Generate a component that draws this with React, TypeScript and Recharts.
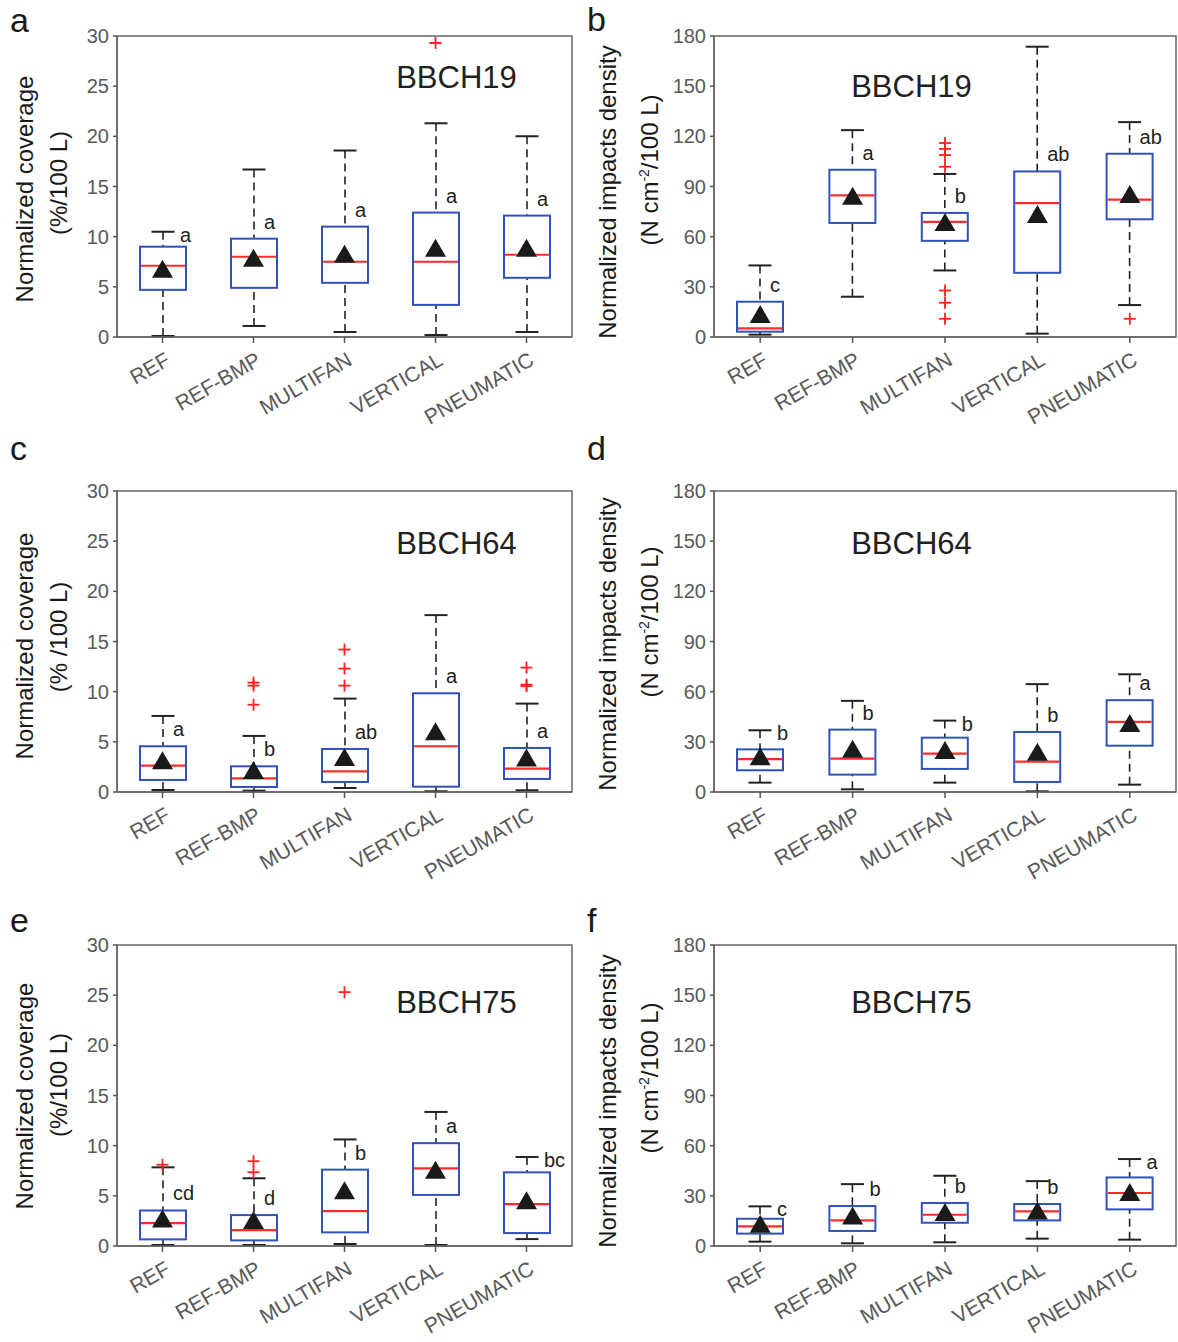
import React from 'react';
import { ComposedChart, Bar, Scatter, XAxis, YAxis, ReferenceArea } from 'recharts';

const FONT = "Arial, 'Liberation Sans', Helvetica, sans-serif";

const categories = ['REF', 'REF-BMP', 'MULTIFAN', 'VERTICAL', 'PNEUMATIC'];
const coverageTicks = [0, 5, 10, 15, 20, 25, 30];
const impactTicks = [0, 30, 60, 90, 120, 150, 180];

// Panel a: coverage BBCH19
const aMin = [0.1, 1.1, 0.5, 0.2, 0.5];
const aQ1 = [4.7, 4.9, 5.4, 3.2, 5.9];
const aMedian = [7.1, 8.0, 7.5, 7.5, 8.2];
const aQ3 = [9.0, 9.8, 11.0, 12.4, 12.1];
const aMax = [10.5, 16.7, 18.6, 21.3, 20.0];
const aMean = [6.8, 7.9, 8.3, 8.9, 8.9];
const aLetters = ['a', 'a', 'a', 'a', 'a'];
const aOutliers = [[], [], [], [29.3], []];

// Panel b: impacts BBCH19
const bMin = [1.4, 24.1, 39.8, 2.0, 19.1];
const bQ1 = [3.2, 68.2, 57.5, 38.4, 70.4];
const bMedian = [5.2, 84.7, 68.8, 80.0, 82.1];
const bQ3 = [21.1, 100.0, 74.2, 99.0, 109.6];
const bMax = [42.8, 123.7, 97.5, 173.6, 128.5];
const bMean = [13.7, 84.5, 68.8, 73.5, 85.5];
const bLetters = ['c', 'a', 'b', 'ab', 'ab'];
const bOutliers = [[], [], [116.0, 112.5, 108.8, 101.8, 27.8, 20.5, 10.9], [], [10.9]];

// Panel c: coverage BBCH64
const cMin = [0.2, 0.13, 0.4, 0.07, 0.17];
const cQ1 = [1.2, 0.5, 1.0, 0.53, 1.3];
const cMedian = [2.63, 1.36, 2.06, 4.56, 2.33];
const cQ3 = [4.56, 2.56, 4.29, 9.84, 4.39];
const cMax = [7.58, 5.59, 9.31, 17.63, 8.81];
const cMean = [3.16, 2.2, 3.5, 6.05, 3.43];
const cLetters = ['a', 'b', 'ab', 'a', 'a'];
const cOutliers = [[], [10.9, 10.6, 8.7], [14.2, 12.3, 10.6], [], [12.4, 10.7, 10.55]];

// Panel d: impacts BBCH64
const dMin = [5.6, 1.6, 5.6, 0.4, 4.4];
const dQ1 = [13.0, 10.4, 13.8, 6.0, 27.7];
const dMedian = [19.6, 20.0, 23.0, 18.2, 41.9];
const dQ3 = [25.5, 37.3, 32.5, 35.9, 54.9];
const dMax = [36.9, 54.5, 42.7, 64.5, 70.4];
const dMean = [21.4, 25.9, 25.1, 24.1, 41.3];
const dLetters = ['b', 'b', 'b', 'b', 'a'];
const dOutliers = [[], [], [], [], []];

// Panel e: coverage BBCH75
const eMin = [0.1, 0.1, 0.2, 0.1, 0.69];
const eQ1 = [0.66, 0.56, 1.36, 5.09, 1.29];
const eMedian = [2.28, 1.59, 3.47, 7.74, 4.17];
const eQ3 = [3.54, 3.08, 7.61, 10.25, 7.34];
const eMax = [7.84, 6.75, 10.62, 13.36, 8.87];
const eMean = [2.75, 2.58, 5.56, 7.6, 4.56];
const eLetters = ['cd', 'd', 'b', 'a', 'bc'];
const eOutliers = [[8.1], [8.45, 7.35], [25.3], [], []];

// Panel f: impacts BBCH75
const fMin = [2.6, 1.6, 2.2, 4.4, 3.8];
const fQ1 = [7.4, 9.0, 13.9, 15.3, 21.9];
const fMedian = [11.7, 15.3, 18.7, 20.7, 31.7];
const fQ3 = [16.3, 23.9, 25.7, 25.1, 41.0];
const fMax = [23.7, 37.0, 42.0, 38.8, 52.0];
const fMean = [13.3, 18.3, 20.3, 21.3, 32.3];
const fLetters = ['c', 'b', 'b', 'b', 'a'];
const fOutliers = [[], [], [], [], []];

const MAX_OUT = 7;

function makeRows(
  mn: number[], q1: number[], med: number[], q3: number[], mx: number[],
  mean: number[], letters: string[], outliers: number[][]
) {
  return categories.map((name, i) => {
    const row: any = {
      name,
      range: [mn[i], mx[i]],
      lo: mn[i], hi: mx[i], q1: q1[i], med: med[i], q3: q3[i],
      mean: mean[i], letter: letters[i],
    };
    for (let k = 0; k < MAX_OUT; k++) row['o' + k] = outliers[i][k] ?? null;
    return row;
  });
}

const BoxShape = (props: any) => {
  const { x, y, width, height, payload } = props;
  if (x == null || y == null || !payload) return <g />;
  const top = Math.min(y, y + height);
  const bot = Math.max(y, y + height);
  const { lo, hi, q1, q3, med, letter } = payload;
  const px = (v: number) => bot - ((v - lo) / (hi - lo)) * (bot - top);
  const cx = x + width / 2;
  const hw = width / 2;
  const cw = 11.5;
  const yHi = px(hi), yLo = px(lo), yQ1 = px(q1), yQ3 = px(q3), yMed = px(med);
  const capBase = yHi + 10;
  const boxBase = yQ3 - 10;
  const atCap = capBase >= boxBase - 2;
  const ly = Math.max(capBase, boxBase);
  const lx = cx + (atCap ? 17 : 10);
  return (
    <g>
      <line x1={cx} x2={cx} y1={yHi} y2={yQ3} stroke="#222" strokeWidth={1.6} strokeDasharray="8 5" />
      <line x1={cx} x2={cx} y1={yLo} y2={yQ1} stroke="#222" strokeWidth={1.6} strokeDasharray="8 5" />
      <line x1={cx - cw} x2={cx + cw} y1={yHi} y2={yHi} stroke="#222" strokeWidth={2} />
      <line x1={cx - cw} x2={cx + cw} y1={yLo} y2={yLo} stroke="#222" strokeWidth={2} />
      <rect x={cx - hw} y={yQ3} width={width} height={Math.max(0, yQ1 - yQ3)} fill="#fff" stroke="#2f52bd" strokeWidth={2} />
      <line x1={cx - hw + 1} x2={cx + hw - 1} y1={yMed} y2={yMed} stroke="#ff2a2a" strokeWidth={2.2} />
      <text x={lx} y={ly} fontSize={20} fontFamily={FONT} fill="#231f20">{letter}</text>
    </g>
  );
};

const Triangle = (props: any) => {
  const { cx, cy } = props;
  if (cx == null || cy == null || isNaN(cy)) return <g />;
  const w = 10.5, h = 9;
  return <polygon points={`${cx},${cy - h} ${cx - w},${cy + h} ${cx + w},${cy + h}`} fill="#1a1a1a" />;
};

const makePlus = (key: string) => (props: any) => {
  const { cx, cy, payload } = props;
  if (!payload || payload[key] == null || cx == null || cy == null || isNaN(cy)) return <g />;
  const s = 6;
  return (
    <g>
      <line x1={cx - s} x2={cx + s} y1={cy} y2={cy} stroke="#ff2020" strokeWidth={1.8} />
      <line x1={cx} x2={cx} y1={cy - s} y2={cy + s} stroke="#ff2020" strokeWidth={1.8} />
    </g>
  );
};

const XTick = (props: any) => {
  const { x, y, payload } = props;
  const ax = x + 9;
  const ay = y + 19;
  return (
    <text x={ax} y={ay} transform={`rotate(-30 ${ax} ${ay})`} textAnchor="end" fontSize={21} fontFamily={FONT} fill="#595959">
      {payload.value}
    </text>
  );
};

type PanelProps = {
  rows: any[];
  ticks: number[];
  max: number;
  left: number;
  top: number;
  width: number;
  height: number;
  margin: { top: number; right: number; bottom: number; left: number };
  yWidth: number;
  xHeight: number;
};

function Panel({ rows, ticks, max, left, top, width, height, margin, yWidth, xHeight }: PanelProps) {
  return (
    <div style={{ position: 'absolute', left, top }}>
      <ComposedChart width={width} height={height} data={rows} margin={margin}>
        <XAxis
          dataKey="name"
          type="category"
          interval={0}
          tick={<XTick />}
          tickSize={6}
          height={xHeight}
          axisLine={{ stroke: '#666', strokeWidth: 1.5 }}
          tickLine={{ stroke: '#555', strokeWidth: 1.5 }}
        />
        <YAxis
          type="number"
          domain={[0, max]}
          ticks={ticks}
          interval={0}
          width={yWidth}
          tickSize={4}
          tickMargin={4}
          allowDataOverflow
          axisLine={{ stroke: '#666', strokeWidth: 1.5 }}
          tickLine={{ stroke: '#555', strokeWidth: 1.5 }}
          tick={{ fill: '#595959', fontSize: 20, fontFamily: FONT }}
        />
        <ReferenceArea y1={0} y2={max} fill="none" fillOpacity={0} stroke="#666" strokeWidth={1.5} ifOverflow="visible" />
        <Bar dataKey="range" barSize={46} shape={(p: any) => <BoxShape {...p} />} isAnimationActive={false} />
        <Scatter dataKey="mean" shape={(p: any) => <Triangle {...p} />} isAnimationActive={false} />
        {Array.from({ length: MAX_OUT }, (_, k) => (
          <Scatter key={k} dataKey={'o' + k} shape={makePlus('o' + k)} isAnimationActive={false} />
        ))}
      </ComposedChart>
    </div>
  );
}

const rowsA = makeRows(aMin, aQ1, aMedian, aQ3, aMax, aMean, aLetters, aOutliers);
const rowsB = makeRows(bMin, bQ1, bMedian, bQ3, bMax, bMean, bLetters, bOutliers);
const rowsC = makeRows(cMin, cQ1, cMedian, cQ3, cMax, cMean, cLetters, cOutliers);
const rowsD = makeRows(dMin, dQ1, dMedian, dQ3, dMax, dMean, dLetters, dOutliers);
const rowsE = makeRows(eMin, eQ1, eMedian, eQ3, eMax, eMean, eLetters, eOutliers);
const rowsF = makeRows(fMin, fQ1, fMedian, fQ3, fMax, fMean, fLetters, fOutliers);

const VLabel = ({ x, y, size = 24, children }: any) => (
  <text transform={`translate(${x},${y}) rotate(-90)`} textAnchor="middle" fontSize={size} fontFamily={FONT} fill="#1a1a1a">
    {children}
  </text>
);

const ImpactUnit = ({ x, y }: any) => (
  <text transform={`translate(${x},${y}) rotate(-90)`} textAnchor="middle" fontSize={24} fontFamily={FONT} fill="#1a1a1a">
    (N cm<tspan dy={-9} fontSize={14}>-2</tspan><tspan dy={9}>/100 L)</tspan>
  </text>
);

export default function App() {
  const L = { w: 590, yW: 117, r: 18 };
  const R = { x: 590, w: 588, yW: 124, r: 2 };
  return (
    <div style={{ position: 'relative', width: 1178, height: 1342, background: '#fff', fontFamily: FONT }}>
      <style>{'body{margin:0;background:#fff}'}</style>
      {/* Row 1 */}
      <Panel rows={rowsA} ticks={coverageTicks} max={30} left={0} top={0} width={L.w} height={440}
        margin={{ top: 36, right: L.r, bottom: 8, left: 0 }} yWidth={L.yW} xHeight={95} />
      <Panel rows={rowsB} ticks={impactTicks} max={180} left={R.x} top={0} width={R.w} height={440}
        margin={{ top: 36, right: R.r, bottom: 8, left: 0 }} yWidth={R.yW} xHeight={95} />
      {/* Row 2 */}
      <Panel rows={rowsC} ticks={coverageTicks} max={30} left={0} top={440} width={L.w} height={450}
        margin={{ top: 51, right: L.r, bottom: 3, left: 0 }} yWidth={L.yW} xHeight={95} />
      <Panel rows={rowsD} ticks={impactTicks} max={180} left={R.x} top={440} width={R.w} height={450}
        margin={{ top: 51, right: R.r, bottom: 3, left: 0 }} yWidth={R.yW} xHeight={95} />
      {/* Row 3 */}
      <Panel rows={rowsE} ticks={coverageTicks} max={30} left={0} top={890} width={L.w} height={452}
        margin={{ top: 55, right: L.r, bottom: 6, left: 0 }} yWidth={L.yW} xHeight={90} />
      <Panel rows={rowsF} ticks={impactTicks} max={180} left={R.x} top={890} width={R.w} height={452}
        margin={{ top: 55, right: R.r, bottom: 6, left: 0 }} yWidth={R.yW} xHeight={90} />

      <svg width={1178} height={1342} style={{ position: 'absolute', left: 0, top: 0, pointerEvents: 'none' }}>
        {/* panel letters */}
        <text x={10} y={32} fontSize={34} fontFamily={FONT} fill="#1a1a1a">a</text>
        <text x={587} y={31} fontSize={34} fontFamily={FONT} fill="#1a1a1a">b</text>
        <text x={10} y={460} fontSize={34} fontFamily={FONT} fill="#1a1a1a">c</text>
        <text x={587} y={460} fontSize={34} fontFamily={FONT} fill="#1a1a1a">d</text>
        <text x={10} y={932} fontSize={34} fontFamily={FONT} fill="#1a1a1a">e</text>
        <text x={587} y={932} fontSize={34} fontFamily={FONT} fill="#1a1a1a">f</text>

        {/* stage titles */}
        <text x={456.5} y={88} textAnchor="middle" fontSize={31} fontFamily={FONT} fill="#231f20">BBCH19</text>
        <text x={911.5} y={97} textAnchor="middle" fontSize={31} fontFamily={FONT} fill="#231f20">BBCH19</text>
        <text x={456.5} y={554} textAnchor="middle" fontSize={31} fontFamily={FONT} fill="#231f20">BBCH64</text>
        <text x={911.5} y={554} textAnchor="middle" fontSize={31} fontFamily={FONT} fill="#231f20">BBCH64</text>
        <text x={456.5} y={1013} textAnchor="middle" fontSize={31} fontFamily={FONT} fill="#231f20">BBCH75</text>
        <text x={911.5} y={1013} textAnchor="middle" fontSize={31} fontFamily={FONT} fill="#231f20">BBCH75</text>

        {/* y-axis titles */}
        <VLabel x={33} y={189}>Normalized coverage</VLabel>
        <VLabel x={67} y={183}>(%/100 L)</VLabel>
        <VLabel x={616} y={192}>Normalized impacts density</VLabel>
        <ImpactUnit x={658} y={170} />

        <VLabel x={33} y={646}>Normalized coverage</VLabel>
        <VLabel x={67} y={637}>(% /100 L)</VLabel>
        <VLabel x={616} y={644}>Normalized impacts density</VLabel>
        <ImpactUnit x={658} y={622} />

        <VLabel x={33} y={1096}>Normalized coverage</VLabel>
        <VLabel x={67} y={1085}>(%/100 L)</VLabel>
        <VLabel x={616} y={1101}>Normalized impacts density</VLabel>
        <ImpactUnit x={658} y={1078} />
      </svg>
    </div>
  );
}
